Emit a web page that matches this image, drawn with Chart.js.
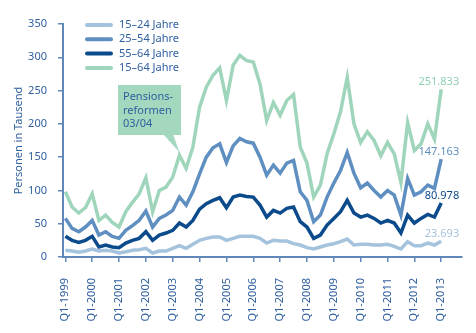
<!DOCTYPE html>
<html>
<head>
<meta charset="utf-8">
<script src="https://cdn.jsdelivr.net/npm/chart.js@4.4.1/dist/chart.umd.min.js"></script>
<style>
  html, body { margin: 0; padding: 0; background: #fff; }
  #wrap { width: 476px; height: 333px; }
</style>
</head>
<body>
<div id="wrap"><canvas id="chart" width="476" height="333"></canvas></div>
<script>
// Quartalswerte Q1-1999 .. Q1-2013 (57 Quartale), Personen in Tausend
const tickLabels = ['Q1-1999', 'Q1-2000', 'Q1-2001', 'Q1-2002', 'Q1-2003', 'Q1-2004', 'Q1-2005',
  'Q1-2006', 'Q1-2007', 'Q1-2008', 'Q1-2009', 'Q1-2010', 'Q1-2011', 'Q1-2012', 'Q1-2013'];

const age1524 = [10, 9, 7, 9, 12, 9, 10, 9, 6, 8, 10, 11, 13, 6, 9, 9, 13, 17, 13, 19,
  25, 28, 30, 30, 25, 28, 31, 31, 31, 28, 21, 25, 24, 24, 20, 18, 14, 12, 15, 18,
  20, 23, 27, 18, 19, 19, 18, 18, 19, 16, 12, 23, 17, 17, 21, 18, 23.693];

const age2554 = [58, 43, 38, 45, 55, 33, 38, 31, 28, 40, 47, 55, 69, 45, 58, 63, 70, 90, 78, 98,
  125, 150, 164, 170, 142, 167, 178, 173, 171, 150, 123, 138, 126, 141, 145, 98, 85, 53, 63, 90,
  111, 130, 157, 126, 104, 111, 100, 90, 100, 93, 63, 118, 93, 98, 108, 103, 147.163];

const age5564 = [31, 25, 22, 25, 31, 15, 18, 15, 14, 21, 25, 28, 38, 25, 33, 36, 40, 51, 45, 55,
  72, 80, 85, 89, 74, 90, 93, 91, 90, 78, 60, 70, 66, 73, 75, 53, 45, 28, 33, 48,
  58, 68, 85, 66, 60, 63, 58, 51, 55, 51, 36, 63, 51, 58, 64, 60, 80.978];

const age1564 = [98, 75, 66, 74, 95, 55, 63, 52, 45, 68, 82, 95, 119, 68, 100, 105, 120, 153, 133, 165,
  225, 255, 273, 284, 235, 288, 303, 295, 293, 260, 205, 232, 213, 235, 244, 165, 141, 90, 108, 155,
  185, 218, 270, 200, 172, 188, 175, 152, 172, 155, 112, 202, 160, 170, 200, 177, 251.833];

const textColor = '#2f5f9e';
const axisColor = '#5f88b8';
const fontFamily = '"Noto Sans", "Open Sans", sans-serif';

const toPoints = arr => arr.map((v, i) => ({ x: i, y: v }));

// Legende oben links
const legendPlugin = {
  id: 'legendLines',
  afterDraw(chart) {
    const ctx = chart.ctx;
    ctx.save();
    ctx.font = '11px ' + fontFamily;
    ctx.textBaseline = 'middle';
    chart.data.datasets.forEach((ds, k) => {
      const y = 25 + k * 14.3;
      ctx.strokeStyle = ds.borderColor;
      ctx.lineWidth = 4;
      ctx.lineCap = 'round';
      ctx.beginPath();
      ctx.moveTo(87, y);
      ctx.lineTo(111, y);
      ctx.stroke();
      ctx.fillStyle = textColor;
      ctx.fillText(ds.label, 119, y);
    });
    ctx.restore();
  }
};

// Werte am Ende jeder Linie
const endLabels = {
  id: 'endLabels',
  afterDatasetsDraw(chart) {
    const ctx = chart.ctx;
    ctx.save();
    ctx.font = '11px ' + fontFamily;
    ctx.textAlign = 'right';
    ctx.textBaseline = 'middle';
    chart.data.datasets.forEach((ds, k) => {
      const meta = chart.getDatasetMeta(k);
      const last = meta.data[meta.data.length - 1];
      const v = ds.data[ds.data.length - 1].y;
      ctx.fillStyle = ds.labelColor;
      ctx.fillText(v.toFixed(3), last.x + 18, last.y - 7);
    });
    ctx.restore();
  }
};

// Hinweis "Pensionsreformen 03/04"
const noteBox = {
  id: 'noteBox',
  afterDatasetsDraw(chart) {
    const ctx = chart.ctx;
    const tip = chart.getDatasetMeta(3).data[17];
    ctx.save();
    ctx.fillStyle = '#a3d8bf';
    ctx.fillRect(118, 85, 63, 50);
    ctx.beginPath();
    ctx.moveTo(163, 134);
    ctx.lineTo(tip.x, tip.y - 3);
    ctx.lineTo(173, 134);
    ctx.closePath();
    ctx.fill();
    ctx.fillStyle = textColor;
    ctx.font = '11px ' + fontFamily;
    ctx.textBaseline = 'middle';
    ['Pensions-', 'reformen', '03/04'].forEach((t, i) => ctx.fillText(t, 123, 97 + i * 13.5));
    ctx.restore();
  }
};

const lineDs = (label, data, color, labelColor) => ({
  label: label,
  data: toPoints(data),
  borderColor: color,
  labelColor: labelColor,
  borderWidth: 3.5,
  pointRadius: 0,
  tension: 0,
  fill: false
});

new Chart(document.getElementById('chart'), {
  type: 'line',
  data: {
    datasets: [
      lineDs('15–24 Jahre', age1524, '#a5c3dd', '#a5c3dd'),
      lineDs('25–54 Jahre', age2554, '#5e8fc0', '#5e8fc0'),
      lineDs('55–64 Jahre', age5564, '#0b4a8b', '#0b4a8b'),
      lineDs('15–64 Jahre', age1564, '#9fd6bb', '#8fd0b0')
    ]
  },
  plugins: [legendPlugin, endLabels, noteBox],
  options: {
    responsive: false,
    animation: false,
    layout: { padding: { top: 24, right: 14, left: 0, bottom: 0 } },
    plugins: { legend: { display: false }, tooltip: { enabled: false } },
    scales: {
      x: {
        type: 'linear',
        min: -0.35,
        max: 59.1,
        afterBuildTicks: s => { s.ticks = tickLabels.map((_, k) => ({ value: k * 4 })); },
        afterFit: s => { s.height = 76; },
        ticks: {
          callback: v => tickLabels[v / 4],
          autoSkip: false,
          minRotation: 90,
          maxRotation: 90,
          padding: 16,
          color: textColor,
          font: { family: fontFamily, size: 11 }
        },
        grid: { drawOnChartArea: false, drawTicks: true, tickLength: 5, color: axisColor, lineWidth: 1.5 },
        border: { color: axisColor, width: 2 }
      },
      y: {
        min: 0,
        max: 350,
        afterFit: s => { s.width = 63; },
        ticks: {
          stepSize: 50,
          padding: 11,
          color: textColor,
          font: { family: fontFamily, size: 11 }
        },
        title: {
          display: true,
          text: 'Personen in Tausend',
          color: textColor,
          padding: { top: 12, bottom: 0 },
          font: { family: fontFamily, size: 11 }
        },
        grid: { drawOnChartArea: false, drawTicks: true, tickLength: 5, color: axisColor, lineWidth: 1.5 },
        border: { color: axisColor, width: 2 }
      }
    }
  }
});
</script>
</body>
</html>
